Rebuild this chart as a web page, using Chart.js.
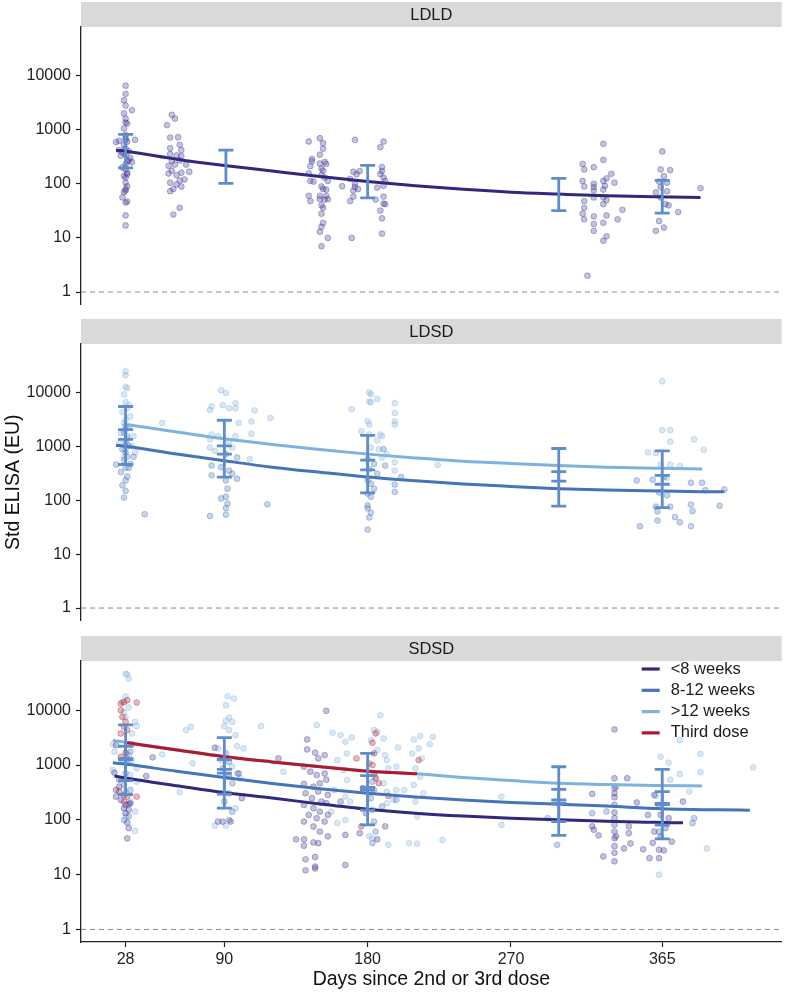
<!DOCTYPE html>
<html>
<head>
<meta charset="utf-8">
<script src="https://cdn.jsdelivr.net/npm/chart.js@4.4.1/dist/chart.umd.min.js"></script>
<style>
  body { margin: 0; background: #fff; width: 792px; height: 993px; position: relative; overflow: hidden; }
  .pnl { position: absolute; left: 0; }
</style>
</head>
<body>
<canvas id="c1" class="pnl" width="792" height="319" style="top:0px"></canvas>
<canvas id="c2" class="pnl" width="792" height="318" style="top:317px"></canvas>
<canvas id="c3" class="pnl" width="792" height="359" style="top:634px"></canvas>
<script>
// ---- axes ----
const dayTicks = [28, 90, 180, 270, 365];
const eluTicks = [1, 10, 100, 1000, 10000];
const dayMin = 0, dayMax = 440;
const refLevel = 1;

const legendLabels = ['<8 weeks', '8-12 weeks', '>12 weeks', 'Third dose'];

// ---- LDLD (<8 weeks) ----
const ldldLt8Day = [28,28,27,28,32,27,28,28,29,27,28,22,24,34,28,29,27,28,30,26,28,31,29,28,26,28,29,27,28,28,29,28,28,27,26,28,29,28,28,30,25,28,29,24,32,
  54,57,59,56,61,56,62,63,56,60,63,57,62,55,59,66,57,63,68,55,60,65,56,62,63,60,56,58,62,58,
  143,150,152,150,152,145,145,144,150,153,154,151,152,143,151,153,155,144,146,151,154,152,143,150,154,153,150,155,144,151,152,151,152,151,150,155,151,
  172,164,171,173,175,169,172,172,174,171,171,169,170,
  190,188,189,189,188,190,191,186,190,190,191,190,188,189,189,185,
  328,328,315,316,322,333,330,335,315,316,322,322,322,328,328,329,322,328,330,316,328,340,316,315,316,322,330,337,322,328,322,330,328,318,
  365,364,370,366,363,368,361,364,368,364,367,369,375,363,366,361,389];
const ldldLt8Val = [6500,4600,3500,2800,2300,2000,1600,1350,1300,1050,800,590,620,650,640,600,520,450,400,380,345,300,260,230,200,185,160,140,130,105,90,80,75,70,56,45,47,26,17,270,330,700,150,420,250,
  1215,1880,1610,715,725,457,525,420,355,335,325,265,270,215,227,227,175,160,167,155,145,120,105,115,89,97,73,80,36,27,
  604,695,563,345,445,288,261,212,237,254,233,192,175,156,145,130,113,113,110,89,78,80,60,60,60,51,52,52,48,40,36,28,19,16,13,10,7,
  649,90,167,150,172,123,100,87,80,75,58,48,10,
  604,476,203,172,151,130,113,85,92,58,42,43,32,23,12,51,
  548,276,233,184,203,153,126,105,113,89,100,87,75,113,78,92,56,56,50,48,42,33,36,28,22,25,26,22,18,19,13.5,10.7,8.9,2,
  397,184,179,138,110,105,69,87,73,56,42,40,30,20.5,15.5,13.5,83];
const ldldFitDay = [22, 28, 60, 90, 120, 150, 180, 210, 240, 270, 300, 330, 360, 389];
const ldldFitLt8 = [415, 400, 285, 218, 172, 136, 110, 92, 79, 70, 64.5, 60, 57.5, 56];
const ldldErrDay = [28, 91, 180, 300, 365];
const ldldErrLo = [197, 102, 55, 32, 28.6];
const ldldErrHi = [820, 420, 218, 126, 116];

// ---- LDSD (8-12 and >12 weeks) ----
const ldsdGt12Day = [28,28,28,29,27,28,30,29,26,31,28,27,30,28,25,33,29,51,24,32,28,34,27,
  88,91,82,81,89,93,97,97,109,119,82,81,86,93,97,99,107,107,81,95,106,84,
  170,181,182,181,182,186,197,197,197,197,180,181,176,181,188,189,182,187,189,192,197,224,197,186,
  365,365,370,370,385,391,356,361,364,370,376,368];
const ldsdGt12Val = [24500,20700,12700,12000,9180,6560,5860,5100,4300,3590,3120,2720,2360,2050,1780,1550,1350,2720,1170,1020,880,770,640,
  11000,9800,5470,4720,5800,5080,6300,5080,4620,3350,1660,1350,1550,1260,1550,2720,2890,1710,950,950,580,820,
  4890,10000,9200,6740,6560,7500,6300,4130,2910,2540,2910,2540,1910,1660,1660,1550,950,880,622,716,505,451,355,1290,
  16100,2000,2000,1220,1350,860,770,750,457,457,432,262];
const ldsd812Day = [28,27,29,28,30,26,28,29,27,31,28,25,29,28,26,28,27,40,22,33,30,
  91,98,82,88,93,95,98,91,82,92,91,88,92,91,91,81,117,
  180,184,181,186,180,182,184,180,182,180,180,182,181,180,197,197,201,191,190,
  349,359,366,383,390,392,404,361,362,370,383,384,401,362,373,376,383,351,363,368];
const ldsd812Val = [2360,1780,1550,1170,1020,880,770,640,557,471,398,332,276,233,189,149,112,55,460,640,398,
  716,622,439,410,355,310,250,233,290,164,116,108,87,71,54,51,84,
  580,471,376,310,233,203,164,133,116,80,71,59,48,28.5,195,143,270,439,885,
  233,240,268,211,211,153,158,76,62,76,83,63,79,42,48.5,39,33,33,139,123];
const ldsdFit812Day = [22, 28, 60, 90, 120, 150, 180, 210, 240, 270, 300, 330, 365, 390, 404];
const ldsdFit812 = [1050, 1000, 720, 540, 410, 330, 270, 230, 200, 180, 164, 154, 148, 144, 143];
const ldsdFitGt12Day = [29, 60, 90, 120, 150, 180, 210, 240, 270, 300, 330, 365, 390];
const ldsdFitGt12 = [2520, 1850, 1380, 1080, 870, 716, 610, 530, 480, 440, 410, 390, 380];
const ldsdErrDay = [28, 90, 180, 300, 365];
const ldsdErrGt12Lo = [1350, 716, 364, 227, 198];
const ldsdErrGt12Hi = [5480, 3040, 1590, 910, 826];
const ldsdErr812Lo = [460, 268, 137, 78, 73];
const ldsdErr812Hi = [2040, 1020, 556, 340, 289];

// ---- SDSD (all groups + third dose) ----
const sdsdLt8Day = [22,21,29,27,22,25,30,28,31,27,30,28,29,30,29,24,22,45,41,
  84,99,93,89,86,94,101,124,
  154,142,142,147,153,149,140,144,148,153,150,154,140,146,141,149,155,145,151,154,140,146,150,155,143,148,140,153,146,150,155,135,140,146,149,140,141,147,141,147,147,166,
  175,186,191,163,166,179,177,
  335,335,343,335,335,335,335,335,335,335,335,335,335,335,335,344,344,345,341,336,321,322,325,328,321,349,356,353,357,363,363,366,359,371,364,369,367,360,378,360,364];
const sdsdLt8Val = [2300,725,1320,284,265,231,195,187,200,163,152,132,89,70.5,46,403,351,1380,630,
  2070,700,612,93,93,93,248,1320,
  9730,2925,1925,1675,1515,1320,933,757,658,700,463,540,450,403,305,327,284,248,215,201,187,163,141,123,123,107,93,93,75.5,61,50,44,44,38.7,37.5,33.7,19,21,12,14,13,15,
  57,44,76,215,53,132,377,
  4460,573,573,377,305,258,188,136,107,81,61,46,33,25,17.5,76,57,37,30,50,76,66,52,21.5,297,207,123,29,20,28.5,20,27.7,38,40,123,107,70.5,285,216,61,50];
const sdsd812Day = [26,29,31,24,27,28,31,30,27,
  91,93,89,95,93,90,95,93,
  181,183,184,182,183,184,185,183,198,189,
  336,321,330,363,363,293,299,384,385];
const sdsd812Val = [1230,1070,1745,533,432,705,351,115,99,
  1630,1140,868,463,305,215,141,99,
  1070,497,351,248,152,93,61,37.7,231,175,
  403,132,142,188,61,107,35,87,107];
const sdsdGt12Day = [28,29,30,28,26,30,27,28,34,35,32,20,21,30,32,35,20,31,35,28,31,34,34,28,51,62,66,69,70,
  92,96,91,93,91,95,90,93,97,98,102,86,88,95,98,100,97,84,91,113,127,
  148,158,166,170,163,167,161,165,167,159,166,169,157,166,161,
  188,184,186,182,190,186,191,192,193,198,185,190,192,198,196,192,183,193,181,213,209,221,219,212,208,214,210,213,209,215,210,211,206,211,227,199,203,
  264,264,376,389,389,382,422,364,369,376,370,363,361,393];
const sdsdGt12Val = [46300,45000,37600,17900,14200,11200,9300,7550,6120,5110,3760,2400,1745,1515,1230,868,811,658,497,327,215,141,63,115,1550,318,4330,4980,1075,
  17900,16300,12300,7350,6400,6120,5110,4340,3510,2210,2010,2010,1230,933,705,571,163,78,78,5110,757,
  5330,3870,2650,3180,3510,1630,1230,811,530,351,265,215,141,99,87,
  8110,4330,4040,2850,3050,1875,1520,1230,868,933,614,465,327,351,231,201,46,35,50,3370,2925,3270,2410,2010,1630,1320,868,614,432,305,215,115,37.7,36.6,43,2095,351,
  265,81,2845,1600,740,327,906,1415,1100,685,540,10,273,30];
const sdsdThirdDay = [25,27,29,35,25,26,28,27,25,29,32,28,25,29,27,24,35,
  185,183,184,183,184,185,187,193,176,173,212];
const sdsdThirdVal = [13200,14000,15200,13800,9980,7550,6120,4980,3760,4340,2400,1675,1415,265,215,327,265,
  3770,2550,1630,1000,685,571,465,273,76,1320,1230];

const sdsdFitLt8Day = [21, 28, 60, 90, 120, 150, 180, 210, 240, 270, 300, 330, 360, 378];
const sdsdFitLt8 = [630, 580, 420, 314, 250, 195, 156, 132, 117, 107, 100, 94, 90, 88];
const sdsdFit812Day = [20, 28, 60, 90, 120, 150, 180, 210, 240, 270, 300, 330, 365, 400, 420];
const sdsdFit812 = [1100, 1040, 770, 590, 460, 370, 305, 260, 230, 208, 193, 178, 160, 152, 150];
const sdsdFitGt12Day = [20, 28, 60, 90, 120, 150, 180, 211, 240, 270, 300, 330, 360, 390];
const sdsdFitGt12 = [2800, 2600, 1900, 1430, 1140, 935, 780, 690, 590, 520, 465, 440, 425, 415];
const sdsdFitThirdDay = [29, 60, 90, 120, 150, 180, 211];
const sdsdFitThird = [2540, 1880, 1420, 1140, 930, 770, 690];

const sdsdErrDay = [28, 90, 180, 300, 365];
const sdsdErrGt12Lo = [1300, 710, 390, 230, 200];
const sdsdErrGt12Hi = [5400, 3150, 1630, 930, 830];
const sdsdErr812Lo = [520, 294, 150, 93, 80];
const sdsdErr812Hi = [2200, 1260, 640, 360, 327];
const sdsdErrLt8Lo = [290, 163, 81, 52, 45];
const sdsdErrLt8Hi = [1250, 835, 350, 200, 190];

// ---- look ----
const FONT = '"Liberation Sans", Arial, Helvetica, sans-serif';
const colLt8 = '#2f2a7e', col812 = '#4674b8', colGt12 = '#80b3dc', colThird = '#b2182b';
const rgbLt8 = '60,52,145', rgb812 = '70,116,184', rgbGt12 = '128,179,220', rgbThird = '178,24,43';
const errCol = '#5f8dcc';
const legendColors = [colLt8, col812, colGt12, colThird];

function xy(days, vals) {
  return days.map((d, i) => ({ x: d, y: vals[i] }));
}

function pts(days, vals, rgb) {
  return {
    type: 'scatter', data: xy(days, vals),
    backgroundColor: 'rgba(' + rgb + ',0.3)',
    borderColor: 'rgba(' + rgb + ',0.45)',
    borderWidth: 0.8, pointRadius: 2.9, order: 3
  };
}

function fit(days, vals, color, ord) {
  return {
    type: 'line', data: xy(days, vals),
    borderColor: color, borderWidth: 3, pointRadius: 0,
    cubicInterpolationMode: 'monotone', fill: false, order: ord
  };
}

function bars(days, lo, hi) {
  return days.map((d, i) => ({
    type: 'line', data: [{ x: d, y: lo[i] }, { x: d, y: hi[i] }],
    borderColor: errCol, borderWidth: 2.8,
    pointStyle: 'line', pointRadius: 7.5, pointBorderWidth: 2.8,
    pointBorderColor: errCol, pointBackgroundColor: errCol, order: 1
  }));
}

function refLine() {
  return {
    type: 'line', data: [{ x: dayMin, y: refLevel }, { x: dayMax, y: refLevel }],
    borderColor: '#8a8a8a', borderWidth: 1, borderDash: [5, 4], pointRadius: 0, order: 5
  };
}

// grey strip on top of each panel
const stripPlugin = {
  id: 'strip',
  beforeDraw(chart, args, opts) {
    const { ctx, chartArea: a } = chart;
    ctx.save();
    ctx.fillStyle = '#d9d9d9';
    ctx.fillRect(a.left, a.top - 25, a.right - a.left, 25);
    ctx.fillStyle = '#1a1a1a';
    ctx.font = '16.5px ' + FONT;
    ctx.textAlign = 'center';
    ctx.textBaseline = 'middle';
    ctx.fillText(opts.text, (a.left + a.right) / 2, a.top - 12);
    ctx.restore();
  }
};

// legend inside the last panel
const legendPlugin = {
  id: 'insideLegend',
  afterDraw(chart) {
    const { ctx, chartArea: a } = chart;
    const x0 = a.right - 140;
    ctx.save();
    ctx.font = '16.5px ' + FONT;
    ctx.textBaseline = 'middle';
    ctx.textAlign = 'left';
    legendLabels.forEach((lab, i) => {
      const y = a.top + 8 + i * 21.3;
      ctx.strokeStyle = legendColors[i];
      ctx.lineWidth = 3.2;
      ctx.beginPath(); ctx.moveTo(x0, y); ctx.lineTo(x0 + 18, y); ctx.stroke();
      ctx.fillStyle = '#1a1a1a';
      ctx.fillText(lab, x0 + 29, y);
    });
    ctx.restore();
  }
};

function options(stripText, showX, yTitle, padBottom) {
  return {
    responsive: false, animation: false, events: [], devicePixelRatio: 1,
    layout: { padding: { top: 27, right: 3, bottom: padBottom, left: 0 } },
    plugins: { legend: { display: false }, tooltip: { enabled: false }, strip: { text: stripText } },
    scales: {
      x: {
        type: 'linear', min: dayMin, max: dayMax, bounds: 'data', display: showX,
        afterBuildTicks: s => { s.ticks = dayTicks.map(v => ({ value: v })); },
        afterFit: showX ? (s => { s.height = 49; }) : undefined,
        ticks: { font: { size: 16, family: FONT }, color: '#1f1f1f', padding: 3, maxRotation: 0, autoSkip: false, callback: v => String(v) },
        grid: { drawOnChartArea: false, drawTicks: true, tickLength: 5, tickColor: '#222', tickWidth: 1.2 },
        border: { color: '#222', width: 1.3 },
        title: { display: true, text: 'Days since 2nd or 3rd dose', font: { size: 19.5, family: FONT }, color: '#111', padding: { top: 0, bottom: 0 } }
      },
      y: {
        type: 'logarithmic', min: 0.59, max: 79000, bounds: 'data',
        afterBuildTicks: s => { s.ticks = eluTicks.map(v => ({ value: v })); },
        afterFit: s => { s.width = 81; },
        ticks: { font: { size: 16, family: FONT }, color: '#1f1f1f', padding: 5, autoSkip: false, callback: v => String(v) },
        grid: { drawOnChartArea: false, drawTicks: true, tickLength: 5, tickColor: '#222', tickWidth: 1.2 },
        border: { color: '#222', width: 1.3 },
        title: { display: !!yTitle, text: yTitle || '', font: { size: 19.5, family: FONT }, color: '#111', padding: { top: 1.5, bottom: 0 } }
      }
    }
  };
}

// panel 1: LDLD
new Chart(document.getElementById('c1'), {
  type: 'scatter',
  data: {
    datasets: [
      ...bars(ldldErrDay, ldldErrLo, ldldErrHi),
      fit(ldldFitDay, ldldFitLt8, colLt8, 2),
      pts(ldldLt8Day, ldldLt8Val, rgbLt8),
      refLine()
    ]
  },
  options: options('LDLD', false, null, 10),
  plugins: [stripPlugin]
});

// panel 2: LDSD
new Chart(document.getElementById('c2'), {
  type: 'scatter',
  data: {
    datasets: [
      ...bars(ldsdErrDay, ldsdErrGt12Lo, ldsdErrGt12Hi),
      ...bars(ldsdErrDay, ldsdErr812Lo, ldsdErr812Hi),
      fit(ldsdFitGt12Day, ldsdFitGt12, colGt12, 2),
      fit(ldsdFit812Day, ldsdFit812, col812, 2),
      pts(ldsd812Day, ldsd812Val, rgb812),
      pts(ldsdGt12Day, ldsdGt12Val, rgbGt12),
      refLine()
    ]
  },
  options: options('LDSD', false, 'Std ELISA (EU)', 10),
  plugins: [stripPlugin]
});

// panel 3: SDSD
new Chart(document.getElementById('c3'), {
  type: 'scatter',
  data: {
    datasets: [
      ...bars(sdsdErrDay, sdsdErrGt12Lo, sdsdErrGt12Hi),
      ...bars(sdsdErrDay, sdsdErr812Lo, sdsdErr812Hi),
      ...bars(sdsdErrDay, sdsdErrLt8Lo, sdsdErrLt8Hi),
      fit(sdsdFitThirdDay, sdsdFitThird, colThird, 1.5),
      fit(sdsdFitGt12Day, sdsdFitGt12, colGt12, 2),
      fit(sdsdFit812Day, sdsdFit812, col812, 2),
      fit(sdsdFitLt8Day, sdsdFitLt8, colLt8, 2),
      pts(sdsdThirdDay, sdsdThirdVal, rgbThird),
      pts(sdsdLt8Day, sdsdLt8Val, rgbLt8),
      pts(sdsd812Day, sdsd812Val, rgb812),
      pts(sdsdGt12Day, sdsdGt12Val, rgbGt12),
      refLine()
    ]
  },
  options: options('SDSD', true, null, 2),
  plugins: [stripPlugin, legendPlugin]
});
</script>
</body>
</html>
